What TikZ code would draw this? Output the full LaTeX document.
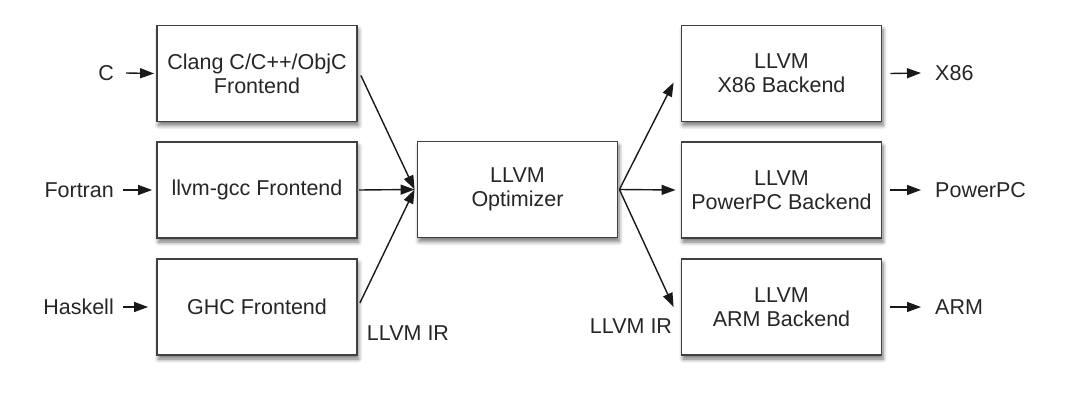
\documentclass[tikz,border=0pt]{standalone}
\usepackage{fontspec}
\setmainfont{Liberation Sans}
\usetikzlibrary{arrows.meta,shadows.blur,calc}
\begin{document}
\begin{tikzpicture}[x=1pt,y=-1pt,
  box/.style={draw=black!75, line width=1.8pt, fill=white, minimum width=200pt, minimum height=96pt,
    align=center, font=\fontsize{21.5}{24}\selectfont, text=black!85,
    blur shadow={shadow xshift=1.5pt, shadow yshift=-4pt, shadow blur steps=6, shadow blur radius=4pt, shadow opacity=55}},
  lbl/.style={font=\fontsize{21.5}{24}\selectfont, text=black!85, inner sep=0pt},
  arr/.style={-{Triangle[length=14pt,width=10pt]}, line width=1.4pt, draw=black!90}]
\useasboundingbox (0,0) rectangle (1079,404);
% frontends
\node[box] (clang) at (257,73.5) {Clang C/C++/ObjC\\Frontend};
\node[box] (gcc) at (257,190) {llvm-gcc Frontend};
\node[box] (ghc) at (257,307) {GHC Frontend};
% optimizer
\node[box] (opt) at (517.5,189.5) {LLVM\\Optimizer};
% backends
\node[box] (x86) at (781.5,73.5) {LLVM\\X86 Backend};
\node[box] (ppc) at (781.5,190) {LLVM\\PowerPC Backend};
\node[box] (arm) at (781.5,307) {LLVM\\ARM Backend};
% inputs
\node[lbl, anchor=east] (c) at (114,73) {C};
\node[lbl, anchor=east] (fortran) at (114,190) {Fortran};
\node[lbl, anchor=east] (haskell) at (114,307) {Haskell};
\draw[arr] ($(c.east)+(12,0)$) -- ($(clang.west)+(-2,0)$);
\draw[arr] ($(fortran.east)+(9,0)$) -- ($(gcc.west)+(-4,0)$);
\draw[arr] ($(haskell.east)+(9,0)$) -- ($(ghc.west)+(-8,0)$);
% fan in
\coordinate (in) at ($(opt.west)+(-2,0)$);
\draw[arr] ($(clang.east)+(3,2)$) -- (in);
\draw[arr] ($(gcc.east)+(1,0)$) -- (in);
\draw[arr] ($(ghc.east)+(2,-4)$) -- (in);
% fan out
\coordinate (out) at ($(opt.east)+(1,0)$);
\draw[arr] (out) -- ($(x86.west)+(-7,9)$);
\draw[arr] (out) -- ($(ppc.west)+(-5,0)$);
\draw[arr] (out) -- ($(arm.west)+(-7,0)$);
% IR labels
\node[lbl] (ir1) at (408,333) {LLVM IR};
\node[lbl] (ir2) at (631,326) {LLVM IR};
% outputs
\node[lbl, anchor=west] (ox86) at (935,73) {X86};
\node[lbl, anchor=west] (oppc) at (935,190) {PowerPC};
\node[lbl, anchor=west] (oarm) at (935,307) {ARM};
\draw[arr] ($(x86.east)+(8,0)$) -- ($(ox86.west)+(-14,0)$);
\draw[arr] ($(ppc.east)+(8,0)$) -- ($(oppc.west)+(-14,0)$);
\draw[arr] ($(arm.east)+(8,0)$) -- ($(oarm.west)+(-14,0)$);
\end{tikzpicture}
\end{document}
